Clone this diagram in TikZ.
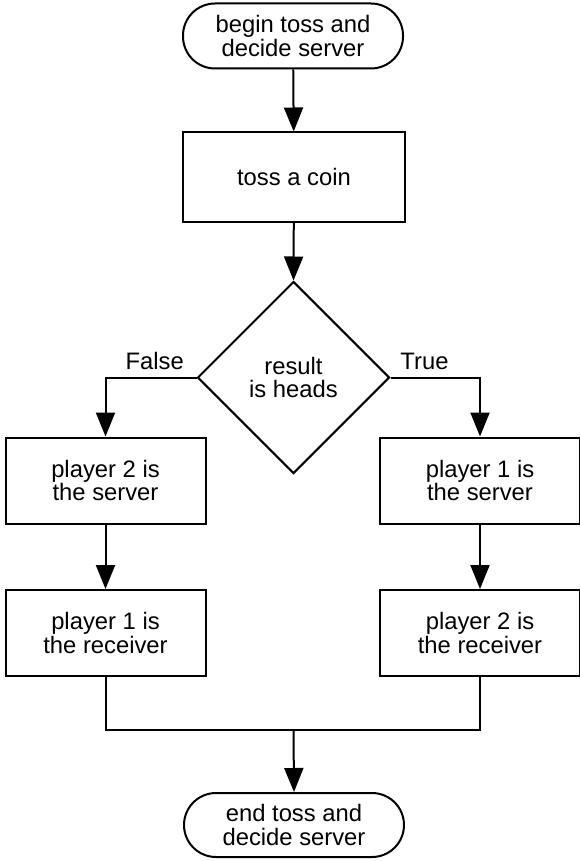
\documentclass[tikz,border=0pt]{standalone}
\usepackage{fontspec}
\setmainfont{Liberation Sans}
\usetikzlibrary{arrows.meta,shapes.geometric}
\begin{document}
\begin{tikzpicture}[x=1pt,y=-1pt,line width=2pt,
  every node/.style={font=\fontsize{23.8}{23.8}\selectfont,align=center},
  term/.style={draw,rectangle,rounded corners=32pt,minimum width=220pt,minimum height=65pt,inner sep=0pt},
  proc/.style={draw,rectangle,minimum width=200pt,minimum height=86pt,inner sep=0pt},
  decision/.style={draw,diamond,aspect=1,minimum width=192pt,minimum height=192pt,inner sep=0pt},
  arr/.style={-{Triangle[width=19pt,length=24pt]}},
  lbl/.style={draw=none,inner sep=7pt}]
\useasboundingbox (0,0) rectangle (580,861);

% terminals, process boxes and the decision
\node[term] (start) at (293,36) {begin toss and\\decide server};
\node[proc,minimum width=222pt,minimum height=89pt] (toss) at (294,177) {toss a coin};
\node[decision] (dec) at (293.5,377.5) {result\\is heads};
\node[proc] (p2s) at (105.5,480.5) {player 2 is\\the server};
\node[proc] (p1s) at (480,480.5) {player 1 is\\the server};
\node[proc] (p1r) at (105.5,633) {player 1 is\\the receiver};
\node[proc] (p2r) at (480,633) {player 2 is\\the receiver};
\node[term,minimum height=64pt] (end) at (294,825) {end toss and\\decide server};
\coordinate (join) at (293.5,730);

% connectors
\draw[arr] (start) -- (toss);
\draw[arr] (toss) -- (dec.north);
\draw[arr] (dec.west) -- node[lbl,above,pos=0.46] {False} (dec.west -| p2s.north) -- (p2s.north);
\draw[arr] (dec.east) -- node[lbl,above,pos=0.38] {True} (dec.east -| p1s.north) -- (p1s.north);
\draw[arr] (p2s) -- (p1r);
\draw[arr] (p1s) -- (p2r);
\draw (p1r.south) |- (join);
\draw (p2r.south) |- (join);
\draw[arr] (join) -- (end.north);
\end{tikzpicture}
\end{document}
